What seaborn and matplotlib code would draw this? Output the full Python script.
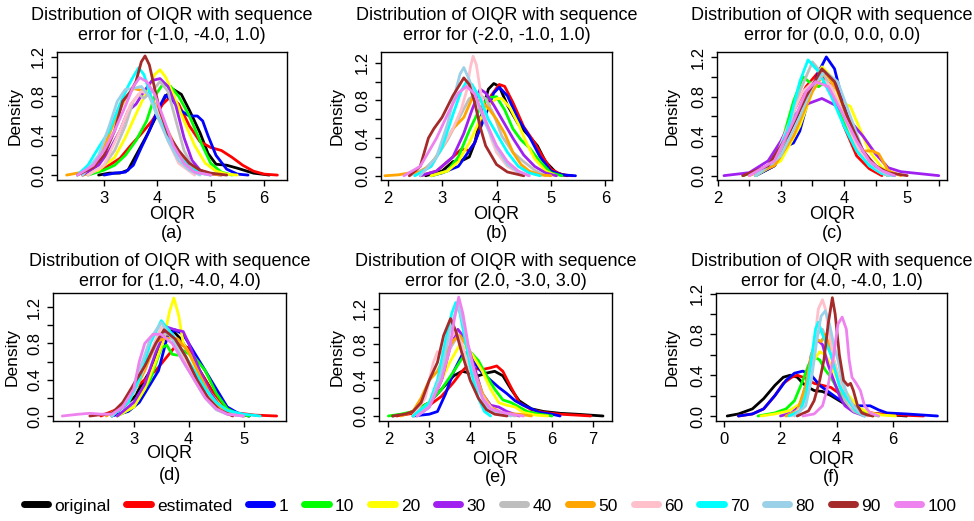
import numpy as np
import pandas as pd
import matplotlib
matplotlib.use("Agg")
import matplotlib.pyplot as plt
from matplotlib.lines import Line2D
import seaborn as sns

# ---------------- data ----------------
series = ["original", "estimated", "1", "10", "20", "30", "40", "50", "60", "70", "80", "90", "100"]
colors = ["#000000", "#FF0000", "#0000FF", "#00FF00", "#FFFF00", "#A020F0", "#BEBEBE",
          "#FFA500", "#FFC0CB", "#00FFFF", "#9AD0E8", "#A52A2A", "#EE82EE"]

title_line1 = "Distribution of OIQR with sequence"
titles = ["(-1.0, -4.0, 1.0)", "(-2.0, -1.0, 1.0)", "(0.0, 0.0, 0.0)",
          "(1.0, -4.0, 4.0)", "(2.0, -3.0, 3.0)", "(4.0, -4.0, 1.0)"]
letters = ["(a)", "(b)", "(c)", "(d)", "(e)", "(f)"]

xticks_a = [3, 4, 5, 6]
xticks_b = [2, 3, 4, 5, 6]
xticks_c = [2, 2.5, 3, 3.5, 4, 4.5, 5, 5.5]
xticks_d = [2, 3, 4, 5]
xticks_e = [2, 3, 4, 5, 6, 7]
xticks_f = [0, 2, 4, 6]
xlabels_c = ["2", "", "3", "", "4", "", "5", ""]
yticks = [0.0, 0.2, 0.4, 0.6, 0.8, 1.0, 1.2]
ylabels = ["0.0", "", "0.4", "", "0.8", "", "1.2"]

curves_a = {
    "original": ([2.9, 3.1, 3.3, 3.45, 3.6, 3.8, 4.0, 4.15, 4.3, 4.45, 4.6, 4.8, 4.95, 5.1, 5.3, 5.5, 5.8, 6.1],
                 [0.0, 0.02, 0.02, 0.05, 0.2, 0.4, 0.62, 0.8, 0.87, 0.82, 0.66, 0.43, 0.22, 0.11, 0.1, 0.07, 0.02, 0.0]),
    "estimated": ([2.6, 2.9, 3.1, 3.3, 3.5, 3.7, 3.9, 4.1, 4.25, 4.4, 4.6, 4.8, 5.0, 5.2, 5.4, 5.6, 5.8, 6.0, 6.25],
                  [0.0, 0.04, 0.1, 0.17, 0.3, 0.42, 0.55, 0.72, 0.8, 0.72, 0.5, 0.34, 0.28, 0.25, 0.18, 0.1, 0.04, 0.01, 0.0]),
    "1": ([3.0, 3.2, 3.4, 3.55, 3.7, 3.85, 4.0, 4.15, 4.3, 4.45, 4.6, 4.75, 4.85, 4.95, 5.1, 5.3, 5.5, 5.7],
          [0.0, 0.02, 0.03, 0.1, 0.28, 0.45, 0.65, 0.81, 0.75, 0.65, 0.6, 0.6, 0.55, 0.4, 0.2, 0.06, 0.01, 0.0]),
    "10": ([2.7, 3.0, 3.2, 3.4, 3.6, 3.8, 3.95, 4.1, 4.25, 4.4, 4.6, 4.8, 5.0, 5.2, 5.4],
           [0.0, 0.05, 0.1, 0.2, 0.35, 0.55, 0.8, 0.92, 0.9, 0.8, 0.6, 0.35, 0.12, 0.03, 0.0]),
    "20": ([2.6, 2.9, 3.2, 3.4, 3.6, 3.8, 3.95, 4.05, 4.15, 4.3, 4.5, 4.7, 4.9, 5.1, 5.3, 5.5],
           [0.0, 0.05, 0.18, 0.38, 0.62, 0.85, 1.02, 1.07, 1.0, 0.82, 0.55, 0.3, 0.12, 0.04, 0.01, 0.0]),
    "30": ([2.6, 2.9, 3.1, 3.3, 3.45, 3.6, 3.75, 3.9, 4.05, 4.2, 4.35, 4.5, 4.65, 4.8, 5.0, 5.2],
           [0.0, 0.1, 0.25, 0.45, 0.65, 0.72, 0.85, 0.96, 0.98, 0.9, 0.7, 0.38, 0.15, 0.05, 0.01, 0.0]),
    "40": ([2.7, 3.0, 3.2, 3.4, 3.55, 3.65, 3.75, 3.9, 4.05, 4.2, 4.35, 4.5, 4.65, 4.8, 5.0],
           [0.0, 0.1, 0.25, 0.5, 0.75, 0.82, 0.78, 0.85, 0.95, 0.85, 0.55, 0.25, 0.1, 0.03, 0.0]),
    "50": ([2.3, 2.6, 2.8, 3.0, 3.2, 3.4, 3.55, 3.7, 3.85, 4.0, 4.2, 4.4, 4.6, 4.9, 5.2],
           [0.0, 0.03, 0.1, 0.28, 0.55, 0.78, 0.88, 0.86, 0.82, 0.68, 0.45, 0.22, 0.08, 0.02, 0.0]),
    "60": ([2.7, 3.0, 3.3, 3.5, 3.7, 3.85, 4.0, 4.2, 4.4, 4.7],
           [0.0, 0.1, 0.45, 0.72, 0.85, 0.82, 0.65, 0.35, 0.12, 0.0]),
    "70": ([2.5, 2.7, 2.9, 3.1, 3.3, 3.45, 3.55, 3.65, 3.75, 3.85, 4.0, 4.2, 4.4, 4.6, 4.8, 5.0],
           [0.0, 0.1, 0.28, 0.45, 0.72, 0.9, 1.0, 1.09, 1.02, 0.85, 0.6, 0.4, 0.2, 0.08, 0.02, 0.0]),
    "80": ([2.6, 2.9, 3.1, 3.25, 3.4, 3.55, 3.7, 3.85, 4.0, 4.2, 4.4, 4.6, 4.8],
           [0.0, 0.2, 0.5, 0.75, 0.87, 0.88, 0.9, 0.8, 0.6, 0.35, 0.15, 0.05, 0.0]),
    "90": ([2.5, 2.8, 3.0, 3.2, 3.35, 3.5, 3.6, 3.7, 3.77, 3.85, 3.95, 4.05, 4.2, 4.4, 4.6, 4.8, 5.0, 5.3],
           [0.0, 0.08, 0.2, 0.45, 0.75, 0.85, 0.95, 1.15, 1.21, 1.12, 0.88, 0.65, 0.42, 0.25, 0.12, 0.05, 0.02, 0.0]),
    "100": ([2.5, 2.8, 3.0, 3.2, 3.4, 3.55, 3.67, 3.8, 3.95, 4.1, 4.3, 4.5, 4.7, 5.0],
            [0.0, 0.1, 0.25, 0.45, 0.7, 0.9, 0.99, 0.95, 0.82, 0.6, 0.3, 0.12, 0.03, 0.0]),
}

curves_b = {
    "original": ([2.7, 3.0, 3.2, 3.4, 3.5, 3.6, 3.7, 3.85, 3.95, 4.05, 4.2, 4.4, 4.6, 4.75, 4.9, 5.1, 5.3],
                 [0.0, 0.05, 0.15, 0.17, 0.2, 0.35, 0.6, 0.92, 0.98, 0.95, 0.75, 0.55, 0.42, 0.32, 0.15, 0.03, 0.0]),
    "estimated": ([2.6, 2.9, 3.2, 3.35, 3.5, 3.6, 3.75, 3.9, 4.05, 4.15, 4.3, 4.5, 4.7, 4.85, 5.0, 5.2, 5.4],
                  [0.0, 0.05, 0.2, 0.28, 0.27, 0.35, 0.6, 0.85, 0.97, 0.95, 0.78, 0.52, 0.35, 0.2, 0.07, 0.01, 0.0]),
    "1": ([2.8, 3.0, 3.3, 3.6, 3.8, 3.95, 4.05, 4.2, 4.4, 4.6, 4.8, 5.0, 5.2, 5.45],
          [0.0, 0.03, 0.1, 0.35, 0.65, 0.88, 0.94, 0.85, 0.6, 0.42, 0.2, 0.05, 0.01, 0.0]),
    "10": ([2.8, 3.1, 3.3, 3.5, 3.7, 3.85, 4.0, 4.15, 4.3, 4.45, 4.6, 4.8, 5.0, 5.2],
           [0.0, 0.05, 0.2, 0.48, 0.72, 0.83, 0.84, 0.7, 0.5, 0.38, 0.3, 0.15, 0.03, 0.0]),
    "20": ([2.8, 3.1, 3.3, 3.5, 3.7, 3.85, 4.0, 4.1, 4.25, 4.4, 4.55, 4.7, 4.9, 5.1],
           [0.0, 0.05, 0.15, 0.35, 0.6, 0.75, 0.82, 0.82, 0.72, 0.55, 0.35, 0.18, 0.05, 0.0]),
    "30": ([2.6, 2.9, 3.2, 3.4, 3.55, 3.7, 3.8, 3.95, 4.1, 4.3, 4.5, 4.7, 4.9, 5.1],
           [0.0, 0.05, 0.2, 0.45, 0.7, 0.92, 0.88, 0.75, 0.6, 0.4, 0.22, 0.1, 0.03, 0.0]),
    "40": ([2.4, 2.7, 2.9, 3.1, 3.3, 3.5, 3.65, 3.8, 3.95, 4.1, 4.3, 4.5, 4.7, 4.9],
           [0.0, 0.08, 0.2, 0.38, 0.6, 0.82, 0.87, 0.82, 0.65, 0.42, 0.25, 0.15, 0.06, 0.0]),
    "50": ([1.95, 2.2, 2.4, 2.6, 2.8, 3.0, 3.2, 3.4, 3.55, 3.7, 3.85, 4.0, 4.15, 4.3, 4.45, 4.6, 4.8, 5.0],
           [0.0, 0.01, 0.03, 0.04, 0.12, 0.3, 0.5, 0.62, 0.82, 0.8, 0.72, 0.6, 0.45, 0.25, 0.12, 0.05, 0.01, 0.0]),
    "60": ([2.5, 2.8, 3.0, 3.2, 3.35, 3.45, 3.52, 3.57, 3.63, 3.7, 3.8, 3.9, 4.0, 4.2, 4.5],
           [0.0, 0.1, 0.3, 0.5, 0.7, 0.9, 1.15, 1.27, 1.18, 0.92, 0.6, 0.4, 0.25, 0.1, 0.0]),
    "70": ([2.5, 2.8, 3.0, 3.2, 3.35, 3.45, 3.55, 3.7, 3.85, 4.0, 4.2, 4.4, 4.6, 4.8],
           [0.0, 0.1, 0.3, 0.65, 0.9, 1.0, 0.97, 0.82, 0.6, 0.45, 0.25, 0.1, 0.03, 0.0]),
    "80": ([2.6, 2.9, 3.1, 3.25, 3.33, 3.4, 3.5, 3.6, 3.8, 4.0, 4.2, 4.4, 4.6],
           [0.0, 0.2, 0.55, 0.9, 1.08, 1.15, 1.02, 0.85, 0.55, 0.3, 0.12, 0.04, 0.0]),
    "90": ([2.4, 2.6, 2.75, 2.85, 3.0, 3.2, 3.4, 3.5, 3.6, 3.7, 3.8, 4.0, 4.2, 4.5],
           [0.0, 0.1, 0.4, 0.5, 0.62, 0.85, 1.04, 0.97, 0.78, 0.52, 0.32, 0.12, 0.04, 0.0]),
    "100": ([2.3, 2.6, 2.9, 3.1, 3.3, 3.45, 3.6, 3.8, 4.0, 4.2, 4.4, 4.6],
            [0.0, 0.1, 0.4, 0.65, 0.88, 0.95, 0.87, 0.58, 0.32, 0.15, 0.05, 0.0]),
}

curves_c = {
    "original": ([2.6, 2.9, 3.2, 3.4, 3.55, 3.65, 3.75, 3.85, 4.05, 4.3, 4.5, 4.7],
                 [0.0, 0.1, 0.5, 0.8, 0.98, 1.05, 1.02, 0.95, 0.6, 0.25, 0.08, 0.0]),
    "estimated": ([2.4, 2.8, 3.0, 3.2, 3.4, 3.6, 3.8, 4.0, 4.2, 4.4, 4.6],
                  [0.0, 0.1, 0.3, 0.65, 0.9, 1.05, 0.9, 0.5, 0.2, 0.07, 0.0]),
    "1": ([2.6, 2.9, 3.1, 3.2, 3.3, 3.45, 3.6, 3.72, 3.85, 4.0, 4.2, 4.4, 4.6, 4.8],
          [0.0, 0.1, 0.3, 0.33, 0.45, 0.8, 1.05, 1.2, 1.08, 0.7, 0.35, 0.15, 0.05, 0.0]),
    "10": ([2.4, 2.8, 3.0, 3.2, 3.35, 3.5, 3.6, 3.7, 3.9, 4.1, 4.3, 4.5, 4.7],
           [0.0, 0.1, 0.3, 0.75, 1.0, 0.92, 0.9, 0.95, 0.7, 0.4, 0.2, 0.07, 0.0]),
    "20": ([2.6, 3.0, 3.3, 3.5, 3.65, 3.8, 3.95, 4.1, 4.2, 4.4, 4.6, 4.8],
           [0.0, 0.15, 0.5, 0.85, 1.1, 1.0, 0.75, 0.7, 0.55, 0.25, 0.08, 0.0]),
    "30": ([2.1, 2.5, 2.8, 3.0, 3.2, 3.4, 3.65, 3.9, 4.1, 4.3, 4.5, 4.7, 4.9, 5.2, 5.5],
           [0.0, 0.03, 0.15, 0.35, 0.6, 0.72, 0.78, 0.7, 0.55, 0.4, 0.22, 0.08, 0.04, 0.02, 0.0]),
    "40": ([2.6, 2.9, 3.1, 3.3, 3.5, 3.7, 3.9, 4.1, 4.3, 4.5, 4.7],
           [0.0, 0.12, 0.4, 0.85, 1.15, 1.0, 0.75, 0.45, 0.2, 0.07, 0.0]),
    "50": ([2.5, 2.9, 3.2, 3.5, 3.7, 3.9, 4.1, 4.3, 4.45, 4.55, 4.7, 4.9],
           [0.0, 0.1, 0.4, 0.85, 1.05, 0.85, 0.5, 0.25, 0.25, 0.22, 0.05, 0.0]),
    "60": ([2.5, 2.9, 3.2, 3.35, 3.6, 3.8, 4.0, 4.2, 4.4, 4.6, 4.8],
           [0.0, 0.15, 0.65, 0.85, 1.0, 0.9, 0.6, 0.3, 0.1, 0.02, 0.0]),
    "70": ([2.6, 2.9, 3.1, 3.3, 3.43, 3.6, 3.8, 4.0, 4.2, 4.4, 4.6, 4.8],
           [0.0, 0.15, 0.45, 0.95, 1.17, 1.05, 0.8, 0.5, 0.25, 0.1, 0.02, 0.0]),
    "80": ([2.6, 3.0, 3.3, 3.5, 3.7, 3.9, 4.1, 4.3, 4.5, 4.7],
           [0.0, 0.2, 0.6, 0.9, 1.05, 0.95, 0.6, 0.25, 0.08, 0.0]),
    "90": ([2.4, 2.8, 3.1, 3.4, 3.65, 3.85, 4.05, 4.3, 4.5, 4.7, 5.0],
           [0.0, 0.1, 0.4, 0.8, 1.08, 0.95, 0.6, 0.25, 0.1, 0.03, 0.0]),
    "100": ([2.5, 2.9, 3.2, 3.4, 3.55, 3.75, 4.0, 4.2, 4.4, 4.6, 4.8],
            [0.0, 0.15, 0.55, 0.85, 0.95, 0.9, 0.6, 0.35, 0.15, 0.05, 0.0]),
}

curves_d = {
    "original": ([2.6, 3.0, 3.3, 3.55, 3.7, 3.85, 4.05, 4.25, 4.45, 4.65, 4.9, 5.1],
                 [0.0, 0.2, 0.5, 0.85, 0.95, 0.85, 0.65, 0.45, 0.25, 0.08, 0.02, 0.0]),
    "estimated": ([2.4, 2.8, 3.0, 3.2, 3.4, 3.6, 3.8, 4.0, 4.2, 4.4, 4.6, 4.8, 5.2, 5.6],
                  [0.0, 0.1, 0.3, 0.4, 0.5, 0.65, 0.8, 0.75, 0.5, 0.3, 0.12, 0.04, 0.01, 0.0]),
    "1": ([2.6, 2.9, 3.1, 3.3, 3.45, 3.6, 3.75, 3.9, 4.1, 4.3, 4.5, 4.7, 4.9, 5.1],
          [0.0, 0.05, 0.15, 0.35, 0.5, 0.85, 0.95, 0.9, 0.7, 0.5, 0.3, 0.1, 0.03, 0.0]),
    "10": ([2.7, 3.0, 3.3, 3.5, 3.6, 3.7, 3.8, 3.9, 4.1, 4.3, 4.5, 4.7, 4.9, 5.1],
           [0.0, 0.1, 0.4, 0.75, 0.78, 0.68, 0.67, 0.72, 0.65, 0.5, 0.25, 0.08, 0.02, 0.0]),
    "20": ([2.7, 3.0, 3.2, 3.4, 3.55, 3.65, 3.73, 3.82, 3.9, 4.0, 4.2, 4.4, 4.6, 4.8, 5.0],
           [0.0, 0.1, 0.3, 0.6, 0.85, 1.15, 1.3, 1.1, 0.8, 0.7, 0.45, 0.25, 0.1, 0.03, 0.0]),
    "30": ([2.7, 3.0, 3.2, 3.4, 3.6, 3.75, 3.9, 4.0, 4.2, 4.4, 4.6, 4.8, 5.0],
           [0.0, 0.15, 0.35, 0.7, 0.98, 0.95, 0.93, 0.8, 0.5, 0.25, 0.08, 0.02, 0.0]),
    "40": ([2.6, 3.0, 3.3, 3.5, 3.7, 3.9, 4.1, 4.3, 4.5, 4.7, 5.0],
           [0.0, 0.25, 0.65, 0.9, 0.9, 0.7, 0.45, 0.25, 0.1, 0.03, 0.0]),
    "50": ([2.5, 2.9, 3.2, 3.4, 3.6, 3.8, 4.0, 4.2, 4.4, 4.6, 4.8, 5.0],
           [0.0, 0.15, 0.5, 0.82, 0.86, 0.85, 0.7, 0.45, 0.22, 0.08, 0.02, 0.0]),
    "60": ([2.6, 3.0, 3.3, 3.5, 3.7, 3.9, 4.1, 4.3, 4.5, 4.7, 5.0],
           [0.0, 0.25, 0.7, 0.98, 0.9, 0.65, 0.4, 0.2, 0.07, 0.02, 0.0]),
    "70": ([2.6, 2.9, 3.1, 3.3, 3.5, 3.7, 3.9, 4.1, 4.3, 4.5, 4.7, 5.0, 5.3],
           [0.0, 0.15, 0.4, 0.8, 1.05, 0.9, 0.7, 0.5, 0.3, 0.15, 0.06, 0.02, 0.0]),
    "80": ([2.6, 2.9, 3.1, 3.3, 3.5, 3.7, 3.9, 4.1, 4.3, 4.5, 4.7, 5.0],
           [0.0, 0.2, 0.5, 0.85, 1.03, 0.85, 0.6, 0.4, 0.2, 0.07, 0.02, 0.0]),
    "90": ([2.2, 2.6, 2.8, 3.0, 3.2, 3.4, 3.55, 3.75, 3.95, 4.15, 4.35, 4.55, 4.8],
           [0.0, 0.03, 0.15, 0.35, 0.55, 0.8, 0.95, 0.85, 0.65, 0.4, 0.2, 0.07, 0.0]),
    "100": ([1.7, 2.0, 2.2, 2.4, 2.6, 2.8, 3.0, 3.1, 3.2, 3.35, 3.5, 3.7, 3.9, 4.1, 4.3, 4.5, 4.7, 5.0],
            [0.0, 0.02, 0.03, 0.02, 0.02, 0.1, 0.3, 0.6, 0.8, 0.9, 0.9, 0.8, 0.6, 0.4, 0.2, 0.08, 0.02, 0.0]),
}

curves_e = {
    "original": ([2.1, 2.5, 2.8, 3.0, 3.3, 3.6, 3.8, 4.0, 4.2, 4.4, 4.6, 4.8, 5.0, 5.2, 5.5, 5.8, 6.2, 6.6, 7.25],
                 [0.0, 0.03, 0.1, 0.15, 0.3, 0.45, 0.5, 0.48, 0.45, 0.48, 0.5, 0.45, 0.3, 0.17, 0.08, 0.05, 0.03, 0.02, 0.0]),
    "estimated": ([2.2, 2.6, 3.0, 3.3, 3.6, 3.8, 3.95, 4.1, 4.3, 4.5, 4.65, 4.8, 5.0, 5.2, 5.5, 5.8, 6.2, 6.6, 6.95],
                  [0.0, 0.03, 0.12, 0.22, 0.38, 0.5, 0.57, 0.53, 0.52, 0.54, 0.56, 0.5, 0.32, 0.15, 0.07, 0.04, 0.02, 0.01, 0.0]),
    "1": ([2.6, 3.0, 3.2, 3.4, 3.6, 3.8, 3.95, 4.1, 4.3, 4.5, 4.7, 4.9, 5.1, 5.3, 5.5, 5.7, 6.0, 6.2],
          [0.0, 0.02, 0.05, 0.25, 0.5, 0.68, 0.72, 0.6, 0.48, 0.4, 0.32, 0.25, 0.17, 0.12, 0.08, 0.04, 0.02, 0.0]),
    "10": ([2.0, 2.3, 2.6, 3.0, 3.3, 3.6, 3.85, 4.0, 4.2, 4.4, 4.6, 4.8, 5.0, 5.2, 5.4, 5.7, 6.0],
           [0.0, 0.02, 0.05, 0.15, 0.3, 0.5, 0.68, 0.72, 0.62, 0.45, 0.3, 0.18, 0.15, 0.1, 0.05, 0.02, 0.0]),
    "20": ([2.6, 3.0, 3.3, 3.5, 3.75, 3.95, 4.1, 4.3, 4.5, 4.7, 4.9, 5.1, 5.3, 5.6, 5.9],
           [0.0, 0.15, 0.4, 0.6, 0.8, 0.75, 0.65, 0.5, 0.3, 0.15, 0.12, 0.1, 0.04, 0.01, 0.0]),
    "30": ([2.7, 3.0, 3.3, 3.5, 3.7, 3.9, 4.1, 4.3, 4.5, 4.7, 4.9, 5.2],
           [0.0, 0.1, 0.4, 0.75, 0.97, 0.85, 0.55, 0.25, 0.12, 0.1, 0.05, 0.0]),
    "40": ([2.6, 3.0, 3.3, 3.5, 3.7, 3.9, 4.1, 4.3, 4.5, 4.8, 5.1],
           [0.0, 0.12, 0.45, 0.75, 0.9, 0.8, 0.5, 0.25, 0.1, 0.03, 0.0]),
    "50": ([2.3, 2.6, 2.8, 3.0, 3.2, 3.45, 3.6, 3.75, 3.9, 4.1, 4.3, 4.5, 4.8, 5.2, 5.5],
           [0.0, 0.05, 0.2, 0.4, 0.5, 0.75, 0.85, 0.9, 0.8, 0.5, 0.25, 0.1, 0.03, 0.02, 0.0]),
    "60": ([2.6, 2.9, 3.1, 3.2, 3.35, 3.5, 3.65, 3.8, 4.0, 4.2, 4.4, 4.6, 4.9],
           [0.0, 0.2, 0.6, 0.72, 0.7, 0.85, 0.95, 0.8, 0.5, 0.3, 0.15, 0.05, 0.0]),
    "70": ([2.6, 3.0, 3.2, 3.4, 3.55, 3.65, 3.75, 3.9, 4.05, 4.2, 4.35, 4.5],
           [0.0, 0.15, 0.4, 0.85, 1.15, 1.27, 1.15, 0.8, 0.45, 0.2, 0.05, 0.0]),
    "80": ([2.7, 3.0, 3.3, 3.5, 3.7, 3.85, 4.0, 4.2, 4.4, 4.6, 5.0],
           [0.0, 0.1, 0.5, 0.95, 1.25, 1.0, 0.65, 0.3, 0.1, 0.03, 0.0]),
    "90": ([2.1, 2.4, 2.6, 2.8, 3.0, 3.2, 3.35, 3.52, 3.65, 3.8, 4.0, 4.2, 4.4, 4.6, 4.9],
           [0.0, 0.02, 0.05, 0.15, 0.4, 0.6, 0.9, 1.09, 0.95, 0.7, 0.4, 0.2, 0.07, 0.02, 0.0]),
    "100": ([2.7, 3.0, 3.3, 3.5, 3.6, 3.72, 3.82, 3.95, 4.1, 4.2, 4.3, 4.5, 4.7, 5.0, 5.3],
            [0.0, 0.1, 0.4, 0.75, 1.05, 1.33, 1.15, 0.8, 0.5, 0.35, 0.2, 0.08, 0.05, 0.02, 0.0]),
}

curves_f = {
    "original": ([0.1, 0.5, 1.0, 1.4, 1.8, 2.1, 2.35, 2.6, 2.8, 3.0, 3.2, 3.5, 3.8, 4.1, 4.4, 4.7, 5.0, 5.5, 6.0, 6.5],
                 [0.0, 0.02, 0.07, 0.17, 0.3, 0.38, 0.4, 0.38, 0.32, 0.28, 0.25, 0.24, 0.2, 0.15, 0.1, 0.05, 0.03, 0.02, 0.01, 0.0]),
    "estimated": ([0.5, 1.0, 1.4, 1.8, 2.1, 2.4, 2.6, 2.9, 3.2, 3.5, 3.8, 4.1, 4.4, 4.7, 5.0, 5.5, 6.2, 7.1],
                  [0.0, 0.02, 0.07, 0.2, 0.32, 0.38, 0.4, 0.37, 0.32, 0.3, 0.28, 0.22, 0.15, 0.08, 0.04, 0.02, 0.01, 0.0]),
    "1": ([0.5, 1.0, 1.4, 1.8, 2.2, 2.5, 2.8, 3.1, 3.4, 3.7, 4.0, 4.3, 4.6, 4.9, 5.2, 5.5, 5.8, 6.5, 7.6],
          [0.0, 0.02, 0.07, 0.2, 0.35, 0.42, 0.44, 0.4, 0.3, 0.24, 0.18, 0.13, 0.1, 0.1, 0.1, 0.06, 0.03, 0.02, 0.0]),
    "10": ([1.2, 1.8, 2.2, 2.5, 2.8, 3.0, 3.2, 3.4, 3.6, 3.8, 4.0, 4.2, 4.5, 4.8, 5.2, 5.5],
           [0.0, 0.03, 0.07, 0.15, 0.35, 0.5, 0.58, 0.55, 0.45, 0.38, 0.28, 0.18, 0.08, 0.04, 0.02, 0.0]),
    "20": ([1.3, 1.8, 2.3, 2.7, 3.0, 3.2, 3.4, 3.6, 3.8, 4.0, 4.2, 4.5, 4.8, 5.2, 5.6, 6.1],
           [0.0, 0.02, 0.05, 0.12, 0.35, 0.55, 0.63, 0.6, 0.5, 0.38, 0.28, 0.18, 0.08, 0.03, 0.01, 0.0]),
    "30": ([2.0, 2.4, 2.7, 2.9, 3.1, 3.3, 3.5, 3.7, 3.9, 4.1, 4.3, 4.6, 5.0],
           [0.0, 0.03, 0.1, 0.3, 0.6, 0.75, 0.7, 0.5, 0.35, 0.2, 0.1, 0.04, 0.0]),
    "40": ([2.2, 2.6, 2.9, 3.1, 3.3, 3.5, 3.7, 3.9, 4.1, 4.3, 4.6, 5.0],
           [0.0, 0.05, 0.25, 0.55, 0.8, 0.85, 0.7, 0.5, 0.3, 0.15, 0.05, 0.0]),
    "50": ([2.2, 2.6, 2.9, 3.1, 3.3, 3.45, 3.6, 3.8, 4.0, 4.2, 4.4, 4.7, 5.0, 5.3],
           [0.0, 0.05, 0.3, 0.6, 0.75, 0.73, 0.8, 0.65, 0.45, 0.28, 0.15, 0.06, 0.02, 0.0]),
    "60": ([2.4, 2.8, 3.0, 3.2, 3.35, 3.5, 3.6, 3.75, 3.9, 4.1, 4.3, 4.5, 4.8, 5.1],
           [0.0, 0.1, 0.3, 0.7, 1.05, 1.14, 1.05, 0.8, 0.55, 0.35, 0.2, 0.1, 0.04, 0.0]),
    "70": ([2.3, 2.7, 2.9, 3.1, 3.25, 3.35, 3.5, 3.65, 3.8, 3.95, 4.1, 4.3, 4.5, 4.7, 5.0],
           [0.0, 0.05, 0.2, 0.55, 0.85, 0.92, 0.8, 0.7, 0.6, 0.45, 0.3, 0.2, 0.12, 0.05, 0.0]),
    "80": ([2.5, 2.9, 3.1, 3.3, 3.45, 3.6, 3.75, 3.9, 4.05, 4.2, 4.4, 4.6, 4.8, 5.0],
           [0.0, 0.1, 0.35, 0.75, 0.98, 1.03, 0.9, 0.7, 0.55, 0.35, 0.2, 0.1, 0.04, 0.0]),
    "90": ([2.6, 3.0, 3.2, 3.4, 3.55, 3.7, 3.85, 3.95, 4.1, 4.25, 4.4, 4.5, 4.6, 4.75, 4.9, 5.1, 5.3],
           [0.0, 0.05, 0.15, 0.35, 0.55, 0.9, 1.16, 1.0, 0.6, 0.35, 0.3, 0.32, 0.25, 0.1, 0.03, 0.01, 0.0]),
    "100": ([2.8, 3.2, 3.5, 3.7, 3.9, 4.05, 4.2, 4.35, 4.45, 4.55, 4.7, 4.85, 5.0, 5.2, 5.5],
            [0.0, 0.02, 0.1, 0.3, 0.6, 0.9, 0.97, 0.85, 0.55, 0.38, 0.32, 0.25, 0.1, 0.03, 0.0]),
}

panels = [curves_a, curves_b, curves_c, curves_d, curves_e, curves_f]
xticks_all = [xticks_a, xticks_b, xticks_c, xticks_d, xticks_e, xticks_f]
xlabels_all = [None, None, xlabels_c, None, None, None]
xlims = [(2.12, 6.43), (1.88, 6.12), (1.99, 5.63), (1.53, 5.77), (1.77, 7.47), (-0.30, 7.94)]
ylims = [(-0.05, 1.25), (-0.045, 1.315), (-0.044, 1.25), (-0.055, 1.355), (-0.056, 1.376), (-0.049, 1.206)]

# ---------------- layout (pixels) ----------------
W, H = 974, 521
boxes = [(57, 287, 52, 180), (381, 612, 52, 180), (717, 947, 52, 180),
         (53, 286, 293, 421), (379, 612, 293, 421), (716, 947, 293, 421)]
title1_y = [16, 16, 16, 261, 261, 261]
title2_y = [36, 36, 36, 282, 282, 282]
xlab_y = [214, 214, 214, 454, 460, 459]
letter_y = [233, 233, 233, 475, 478, 477]
dens_x = [15, 337, 672, 12, 337, 672]

sns.set_theme(style="ticks")
plt.rcParams["font.family"] = ["Liberation Sans", "DejaVu Sans"]
plt.rcParams["text.color"] = "black"
plt.rcParams["axes.labelcolor"] = "black"
plt.rcParams["xtick.color"] = "black"
plt.rcParams["ytick.color"] = "black"
plt.rcParams["axes.edgecolor"] = "black"
plt.rcParams["axes.linewidth"] = 1.0

fig = plt.figure(figsize=(W / 100, H / 100), dpi=100)
fig.patch.set_facecolor("white")

for i, curves in enumerate(panels):
    l, r, t, b = boxes[i]
    ax = fig.add_axes([l / W, 1 - b / H, (r - l) / W, (b - t) / H])
    rows = []
    for s in series:
        xs, ys = curves[s]
        for xv, yv in zip(xs, ys):
            rows.append((s, xv, yv))
    df = pd.DataFrame(rows, columns=["series", "OIQR", "Density"])
    sns.lineplot(data=df, x="OIQR", y="Density", hue="series", hue_order=series,
                 palette=colors, estimator=None, sort=False, legend=False,
                 linewidth=2.0, ax=ax)
    ax.set_xlim(*xlims[i])
    ax.set_ylim(*ylims[i])
    ax.set_xticks(xticks_all[i])
    if xlabels_all[i] is not None:
        ax.set_xticklabels(xlabels_all[i])
    else:
        ax.set_xticklabels([str(v) for v in xticks_all[i]])
    ax.set_yticks(yticks)
    ax.set_yticklabels(ylabels, rotation=90, va="center")
    ax.set_xlabel("")
    ax.set_ylabel("")
    ax.tick_params(direction="out", length=4, width=1, labelsize=12, pad=4,
                   colors="black", labelcolor="black")
    for sp in ax.spines.values():
        sp.set_visible(True)
        sp.set_color("black")
        sp.set_linewidth(1.0)
    cx = (l + r) / 2
    cy = (t + b) / 2
    fig.text(cx / W, 1 - title1_y[i] / H, title_line1,
             ha="center", va="center", fontsize=13, color="black")
    fig.text(cx / W, 1 - title2_y[i] / H, "error for " + titles[i],
             ha="center", va="center", fontsize=13, color="black")
    fig.text(cx / W, 1 - xlab_y[i] / H, "OIQR", ha="center", va="center",
             fontsize=13, color="black")
    fig.text(cx / W, 1 - letter_y[i] / H, letters[i], ha="center", va="center",
             fontsize=13, color="black")
    fig.text(dens_x[i] / W, 1 - cy / H, "Density", ha="center", va="center",
             rotation=90, fontsize=12.5, color="black")

handles = [Line2D([0], [0], color=c, lw=5.0, solid_capstyle="round") for c in colors]
leg = fig.legend(handles, series, loc="center", bbox_to_anchor=(0.503, 1 - 506 / H), ncol=13,
                 frameon=False, handlelength=1.4, handletextpad=0.35, columnspacing=0.93,
                 prop={"family": ["Liberation Sans", "DejaVu Sans"], "size": 12.5})
for t in leg.get_texts():
    t.set_color("black")

fig.savefig("out.png", dpi=100, facecolor="white")
